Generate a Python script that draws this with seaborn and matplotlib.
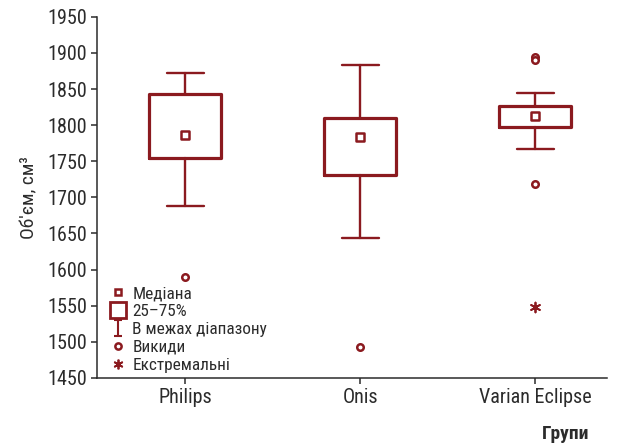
import numpy as np
import pandas as pd
import seaborn as sns
import matplotlib.pyplot as plt
from matplotlib.lines import Line2D
from matplotlib.path import Path

# Data
groups = ['Philips', 'Onis', 'Varian Eclipse']
medians = [1786, 1784, 1813]
q1 = [1754, 1731, 1798]
q3 = [1843, 1810, 1826]
whisker_lo = [1688, 1643, 1767]
whisker_hi = [1872, 1884, 1845]

outlier_group = ['Philips', 'Onis', 'Varian Eclipse', 'Varian Eclipse', 'Varian Eclipse']
outlier_vals = [1590, 1493, 1895, 1890, 1718]

extreme_group = ['Varian Eclipse']
extreme_vals = [1548]

legend_labels = ['Медіана', '25–75%', 'В межах діапазону', 'Викиди', 'Екстремальні']

red = '#8b1a1f'
ink = '#2b2b2b'

sns.set_style('ticks')
plt.rcParams['font.family'] = ['Roboto Condensed', 'Liberation Sans Narrow', 'Roboto', 'DejaVu Sans']

fig = plt.figure(figsize=(6.27, 4.45), dpi=100)
ax = fig.add_axes([0.155, 0.151, 0.813, 0.811])

pos = {g: i for i, g in enumerate(groups)}

# boxes + whiskers
stats = []
for i, g in enumerate(groups):
    stats.append(dict(med=medians[i], q1=q1[i], q3=q3[i],
                      whislo=whisker_lo[i], whishi=whisker_hi[i], label=g))
ax.bxp(stats, positions=range(len(groups)), widths=0.41, showfliers=False,
       boxprops=dict(color=red, linewidth=2.3),
       whiskerprops=dict(color=red, linewidth=1.7),
       capprops=dict(color=red, linewidth=1.7),
       medianprops=dict(visible=False), capwidths=0.21)

# medians, outliers, extremes
med_df = pd.DataFrame({'x': [pos[g] for g in groups], 'y': medians})
out_df = pd.DataFrame({'x': [pos[g] for g in outlier_group], 'y': outlier_vals})
ext_df = pd.DataFrame({'x': [pos[g] for g in extreme_group], 'y': extreme_vals})

sns.scatterplot(data=med_df, x='x', y='y', marker='s', s=30, color='white',
                edgecolor=red, linewidth=1.8, ax=ax, zorder=5)
sns.scatterplot(data=out_df, x='x', y='y', marker='o', s=22, color='white',
                edgecolor=red, linewidth=1.8, ax=ax, zorder=5)
sns.scatterplot(data=ext_df, x='x', y='y', marker=(6, 2, 0), s=50, color=red,
                linewidth=1.3, ax=ax, zorder=5)

ax.set_xlim(-0.503, 2.41)
ax.set_ylim(1450, 1950)
ax.set_yticks(np.arange(1450, 1951, 50))
ax.set_xticks(range(len(groups)))
ax.set_xticklabels(groups)
ax.tick_params(axis='both', labelsize=14.5, colors=ink, length=4, width=1.1, pad=3)
for side in ['top', 'right']:
    ax.spines[side].set_visible(False)
for side in ['left', 'bottom']:
    ax.spines[side].set_color(ink)
    ax.spines[side].set_linewidth(1.1)

ax.set_xlabel('')
ax.set_ylabel('Об\'єм, см³', fontsize=14, color=ink, labelpad=7)
fig.text(0.94, 0.013, 'Групи', fontsize=14, fontweight='bold', color=ink, ha='right')

# legend
whisk = Path([(-0.5, 1), (0.5, 1), (0, 1), (0, -1), (-0.5, -1), (0.5, -1)],
             [Path.MOVETO, Path.LINETO, Path.MOVETO, Path.LINETO, Path.MOVETO, Path.LINETO])
handles = [
    Line2D([], [], ls='', marker='s', ms=5, mfc='white', mec=red, mew=1.8),
    Line2D([], [], ls='', marker='s', ms=11, mfc='white', mec=red, mew=2.0),
    Line2D([], [], ls='', marker=whisk, ms=12, mfc='none', mec=red, mew=1.5),
    Line2D([], [], ls='', marker='o', ms=4.5, mfc='white', mec=red, mew=1.8),
    Line2D([], [], ls='', marker=(6, 2, 0), ms=7, mec=red, mew=1.3),
]
ax.legend(handles, legend_labels, loc='lower left', bbox_to_anchor=(0.0, -0.019),
          frameon=False, fontsize=12.4, handlelength=1.0, handletextpad=0.35,
          labelspacing=0.16, borderaxespad=0.3, labelcolor=ink)

fig.savefig('out.png', dpi=100)
